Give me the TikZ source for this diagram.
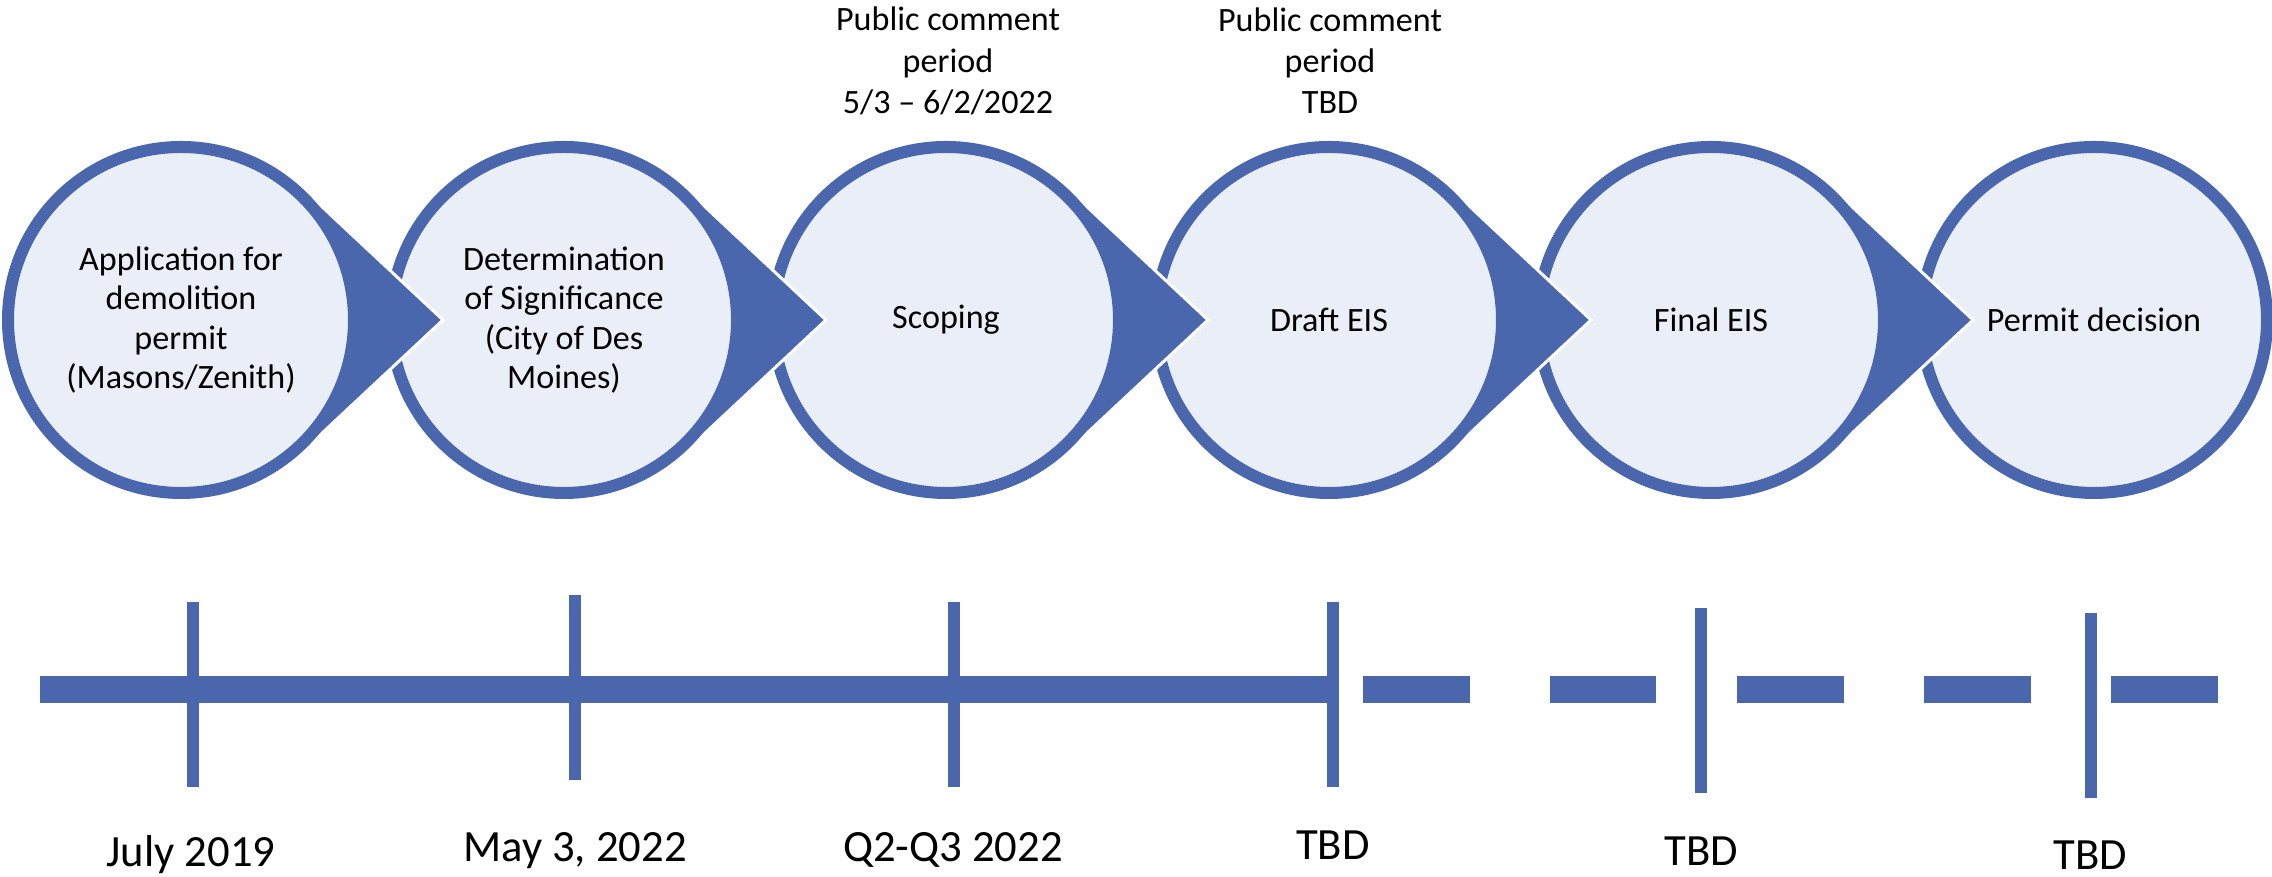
\documentclass[tikz,border=0pt]{standalone}
\usepackage{fontspec}
\setmainfont{Carlito}
\usetikzlibrary{positioning, calc}
\definecolor{discblue}{RGB}{74,102,172}
\definecolor{discfill}{RGB}{234,238,247}

\tikzset{
    stepdisc/.style={fill=discfill, draw=discblue, line width=0.12cm},
    steparrow/.style={fill=discblue, draw=white, line width=0.03cm},
    steptext/.style={align=center, font=\fontsize{9.7}{11.2}\selectfont},
    notetext/.style={align=center, font=\fontsize{9.7}{11.7}\selectfont},
    datetext/.style={anchor=base, font=\fontsize{12.7}{15}\selectfont},
    barpart/.style={fill=discblue},
    tickpart/.style={fill=discblue}
}

\begin{document}
\begin{tikzpicture}[x=0.01cm, y=0.01cm]
        \useasboundingbox (0,0) rectangle (2272,877);
        \coordinate[] (C1) at (181, 557);
        \coordinate[] (C2) at (564, 557);
        \coordinate[] (C3) at (946, 557);
        \coordinate[] (C4) at (1329, 557);
        \coordinate[] (C5) at (1711, 557);
        \coordinate[] (C6) at (2094, 557);
        % circles, drawn from right to left
        \draw[stepdisc] (C6) circle (173);
        \node[steptext] (permit) at (C6) {Permit decision};
        \fill[steparrow] ($(C5)+(47:179)$) -- ($(C5)+(262,0)$) -- ($(C5)+(-47:179)$) arc (-47:-313:179) -- cycle;
        \draw[stepdisc] (C5) circle (173);
        \node[steptext] (feis) at (C5) {Final EIS};
        \fill[steparrow] ($(C4)+(47:179)$) -- ($(C4)+(262,0)$) -- ($(C4)+(-47:179)$) arc (-47:-313:179) -- cycle;
        \draw[stepdisc] (C4) circle (173);
        \node[steptext] (deis) at (C4) {Draft EIS};
        \fill[steparrow] ($(C3)+(47:179)$) -- ($(C3)+(262,0)$) -- ($(C3)+(-47:179)$) arc (-47:-313:179) -- cycle;
        \draw[stepdisc] (C3) circle (173);
        \node[steptext] (scope) at (C3) {Scoping};
        \fill[steparrow] ($(C2)+(47:179)$) -- ($(C2)+(262,0)$) -- ($(C2)+(-47:179)$) arc (-47:-313:179) -- cycle;
        \draw[stepdisc] (C2) circle (173);
        \node[steptext] (dos) at (C2) {Determination\\of Significance\\(City of Des\\Moines)};
        \fill[steparrow] ($(C1)+(47:179)$) -- ($(C1)+(262,0)$) -- ($(C1)+(-47:179)$) arc (-47:-313:179) -- cycle;
        \draw[stepdisc] (C1) circle (173);
        \node[steptext] (app) at (C1) {Application for\\demolition\\permit\\(Masons/Zenith)};
        % comment periods
        \node[notetext] (pc1) at (948, 816) {Public comment\\period\\5/3 -- 6/2/2022};
        \node[notetext] (pc2) at (1330, 816) {Public comment\\period\\TBD};
        % timeline
        \fill[barpart] (40, 174) rectangle (1330, 201);
        \fill[barpart] (1363, 174) rectangle (1470, 201);
        \fill[barpart] (1550, 174) rectangle (1656, 201);
        \fill[barpart] (1737, 174) rectangle (1844, 201);
        \fill[barpart] (1924, 174) rectangle (2031, 201);
        \fill[barpart] (2111, 174) rectangle (2218, 201);
        \fill[tickpart] (187, 90) rectangle (199, 275);
        \fill[tickpart] (569, 97) rectangle (581, 282);
        \fill[tickpart] (948, 90) rectangle (960, 275);
        \fill[tickpart] (1327, 90) rectangle (1339, 275);
        \fill[tickpart] (1695, 84) rectangle (1707, 269);
        \fill[tickpart] (2085, 79) rectangle (2097, 264);
        \node[datetext] (d1) at (191, 10) {July 2019};
        \node[datetext] (d2) at (575, 15) {May 3, 2022};
        \node[datetext] (d3) at (953, 15) {Q2-Q3 2022};
        \node[datetext] (d4) at (1333, 17) {TBD};
        \node[datetext] (d5) at (1701, 11) {TBD};
        \node[datetext] (d6) at (2090, 7) {TBD};
    \end{tikzpicture}
\end{document}
